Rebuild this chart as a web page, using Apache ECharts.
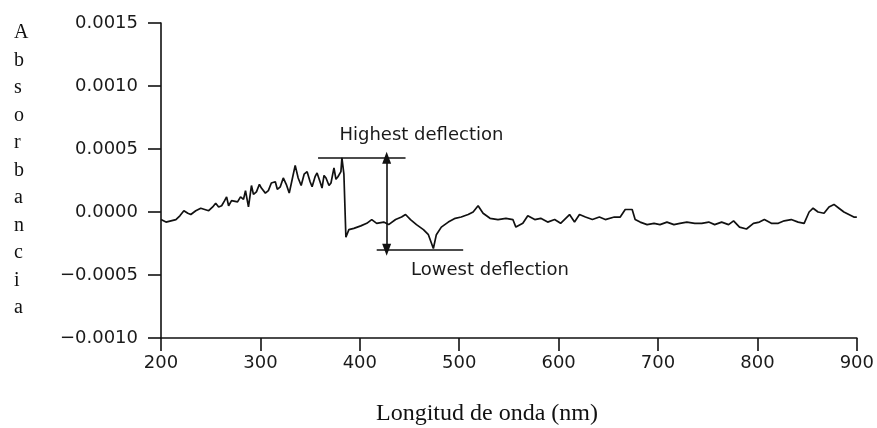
<!DOCTYPE html>
<html>
<head>
<meta charset="utf-8">
<script src="https://cdn.jsdelivr.net/npm/echarts@6/dist/echarts.min.js"></script>
<style>html,body{margin:0;padding:0;background:#fff}#c{width:877px;height:428px}</style>
</head>
<body>
<div id="c"></div>
<script>
// Wavelength (nm) and absorbance
const wavelength = [200,205,210,215,219,223,227,230,235,240,244,248,252,255,258,261,264,266,268,271,273,277,280,283,285,288,291,293,296,299,301,305,308,311,315,317,320,323,326,329,332,335,338,341,344,347,350,352,355,357,360,362,364,366,369,371,374,376,378,381,382,384,386,389,394,401,407,412,417,424,429,436,442,446,451,457,464,469,474,477,482,489,496,502,509,514,519,524,531,539,547,554,557,564,569,576,582,589,596,602,611,616,621,627,634,641,647,656,662,667,674,677,682,689,696,702,709,716,722,729,731,737,744,751,757,764,771,776,782,789,796,802,807,814,821,827,834,841,847,852,856,861,867,872,877,882,887,892,897,900];
const absorbance = [-0.00006,-0.00008,-0.00007,-0.00006,-0.00003,0.00001,-0.00001,-0.00002,0.00001,0.00003,0.00002,0.00001,0.00004,0.00007,0.00004,0.00005,0.00009,0.00012,0.00005,0.00009,0.00010,0.00008,0.00012,0.00010,0.00017,0.00004,0.00021,0.00014,0.00016,0.00022,0.00019,0.00015,0.00017,0.00023,0.00024,0.00018,0.00020,0.00027,0.00022,0.00015,0.00026,0.00037,0.00027,0.00021,0.00030,0.00032,0.00024,0.00020,0.00028,0.00031,0.00024,0.00019,0.00029,0.00027,0.00021,0.00023,0.00035,0.00026,0.00028,0.00032,0.00043,0.00030,-0.00020,-0.00014,-0.00013,-0.00011,-0.00009,-0.00006,-0.00009,-0.00008,-0.00010,-0.00006,-0.00004,-0.00002,-0.00006,-0.00010,-0.00014,-0.00018,-0.00029,-0.00018,-0.00012,-0.00008,-0.00005,-0.00004,-0.00002,0.00000,0.00005,-0.00001,-0.00005,-0.00006,-0.00005,-0.00006,-0.00012,-0.00009,-0.00003,-0.00006,-0.00005,-0.00008,-0.00006,-0.00009,-0.00002,-0.00008,-0.00002,-0.00004,-0.00006,-0.00004,-0.00006,-0.00004,-0.00004,0.00002,0.00002,-0.00006,-0.00008,-0.00010,-0.00009,-0.00010,-0.00008,-0.00010,-0.00009,-0.00008,-0.00009,-0.00009,-0.00009,-0.00008,-0.00010,-0.00008,-0.00010,-0.00007,-0.00012,-0.000135,-0.00009,-0.00008,-0.00006,-0.00009,-0.00009,-0.00007,-0.00006,-0.00008,-0.00009,0.00000,0.00003,0.00000,-0.00001,0.00004,0.00006,0.00003,0.00000,-0.00002,-0.00004,-0.00004];

const xTicks = [200,300,400,500,600,700,800,900];
const yTicks = [-0.0010,-0.0005,0.0000,0.0005,0.0010,0.0015];

// Annotation anchors (data units)
const highestLevel = 0.00043, highestFrom = 358, highestTo = 446;
const lowestLevel = -0.0003, lowestFrom = 417, lowestTo = 504;
const arrowAt = 427;
const highestLabelAt = [462, 0.00061];
const lowestLabelAt = [531, -0.00046];

const seriesData = wavelength.map((w, i) => [w, absorbance[i]]);
const fmtY = v => (v < 0 ? '\u2212' + Math.abs(v).toFixed(4) : Math.abs(v).toFixed(4));

const chart = echarts.init(document.getElementById('c'), null, {renderer: 'canvas'});
const axisLine = {show: true, lineStyle: {color: '#111', width: 1.6}};
const labelFont = {fontFamily: 'DejaVu Sans', fontSize: 18, color: '#1a1a1a'};

chart.setOption({
  animation: false,
  backgroundColor: '#fff',
  grid: {left: 161, right: 18, top: 23, bottom: 90},
  xAxis: {
    type: 'value', min: xTicks[0], max: xTicks[xTicks.length - 1], interval: 100,
    axisLine: Object.assign({onZero: false}, axisLine),
    axisTick: {show: true, length: 13, lineStyle: {color: '#111', width: 1.6}},
    axisLabel: Object.assign({margin: 16}, labelFont),
    splitLine: {show: false}
  },
  yAxis: {
    type: 'value', min: yTicks[0], max: yTicks[yTicks.length - 1], interval: 0.0005,
    axisLine: Object.assign({onZero: false}, axisLine),
    axisTick: {show: true, length: 13, lineStyle: {color: '#111', width: 1.6}},
    axisLabel: Object.assign({margin: 23, formatter: fmtY}, labelFont),
    splitLine: {show: false}
  },
  series: [{
    type: 'line',
    data: seriesData,
    showSymbol: false,
    lineStyle: {color: '#111', width: 1.7},
    silent: true,
    markLine: {
      silent: true,
      animation: false,
      label: {show: false},
      lineStyle: {color: '#111', width: 1.6, type: 'solid'},
      data: [
        [{coord: [highestFrom, highestLevel], symbol: 'none'}, {coord: [highestTo, highestLevel], symbol: 'none'}],
        [{coord: [lowestFrom, lowestLevel], symbol: 'none'}, {coord: [lowestTo, lowestLevel], symbol: 'none'}],
        [{coord: [arrowAt, highestLevel], symbol: 'triangle', symbolSize: [9, 12]}, {coord: [arrowAt, lowestLevel], symbol: 'triangle', symbolSize: [9, 12]}]
      ]
    },
    markPoint: {
      silent: true,
      animation: false,
      symbol: 'circle', symbolSize: 0,
      label: {show: true, position: 'inside', formatter: p => p.name, fontFamily: 'DejaVu Sans', fontSize: 18, color: '#1a1a1a'},
      data: [
        {name: 'Highest deflection', coord: highestLabelAt},
        {name: 'Lowest deflection', coord: lowestLabelAt}
      ]
    }
  }],
  graphic: [
    {type: 'text', left: 14, top: 19, style: {text: 'Absorbancia'.split('').join('\n'), font: '20px "Liberation Serif"', fill: '#111', lineHeight: 27.5, align: 'center'}},
    {type: 'text', left: 376, top: 402, style: {text: 'Longitud de onda (nm)', font: '24px "Liberation Serif"', fill: '#111'}}
  ]
});
</script>
</body>
</html>
